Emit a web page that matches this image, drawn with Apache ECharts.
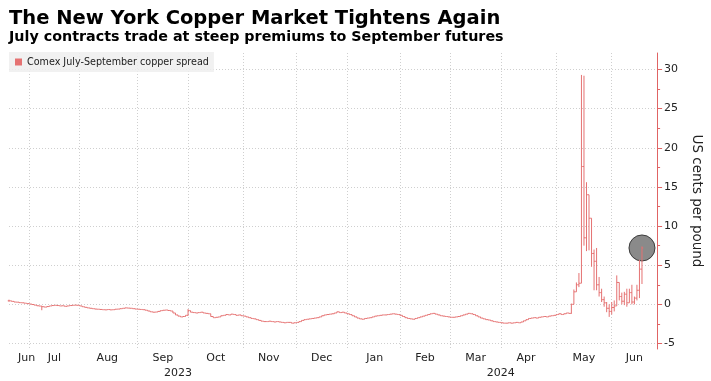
<!DOCTYPE html>
<html><head><meta charset="utf-8">
<script src="https://cdn.jsdelivr.net/npm/echarts@6/dist/echarts.min.js"></script>
<style>html,body{margin:0;padding:0;background:#fff}#c{width:711px;height:381px}</style>
</head><body><div id="c"></div>
<script>
// ---------- texts ----------
const titleText = 'The New York Copper Market Tightens Again';
const subtitleText = 'July contracts trade at steep premiums to September futures';
const seriesName = 'Comex July-September copper spread';
const axisName = 'US cents per pound';

// ---------- calendar (trading days) ----------
const firstDate = '2023-06-21';
const lastAxisDate = '2024-06-28';
const holidays = ['2023-07-04','2023-09-04','2023-11-23','2023-12-25','2024-01-01',
  '2024-01-15','2024-02-19','2024-03-29','2024-05-27','2024-06-19'];

// ---------- daily settlement of the spread (US cents / lb) ----------
const spreadJun23 = [0.45,0.38,0.3,0.28,0.22,0.2,0.15,0.1];
const spreadJul23 = [0.05,-0.02,-0.1,-0.18,-0.22,-0.3,-0.35,-0.28,-0.2,-0.15,-0.12,-0.15,-0.2,-0.18,-0.25,-0.2,-0.15,-0.12,-0.1,-0.12];
const spreadAug23 = [-0.2,-0.3,-0.38,-0.45,-0.5,-0.55,-0.6,-0.62,-0.65,-0.68,-0.7,-0.66,-0.7,-0.68,-0.62,-0.6,-0.55,-0.5,-0.45,-0.48,-0.5,-0.55,-0.6];
const spreadSep23 = [-0.62,-0.65,-0.68,-0.75,-0.85,-0.95,-1.0,-0.98,-0.9,-0.8,-0.75,-0.72,-0.78,-0.85,-1.1,-1.35,-1.5,-1.6,-1.55,-1.4];
const spreadOct23 = [-0.8,-1.0,-1.05,-1.1,-1.05,-1.0,-1.1,-1.15,-1.2,-1.55,-1.7,-1.65,-1.6,-1.45,-1.4,-1.3,-1.35,-1.25,-1.3,-1.4,-1.35,-1.45];
const spreadNov23 = [-1.5,-1.6,-1.7,-1.8,-1.85,-1.95,-2.05,-2.15,-2.2,-2.2,-2.15,-2.2,-2.25,-2.2,-2.25,-2.3,-2.35,-2.3,-2.3,-2.4,-2.35];
const spreadDec23 = [-2.3,-2.2,-2.05,-1.95,-1.9,-1.85,-1.8,-1.75,-1.7,-1.6,-1.45,-1.35,-1.3,-1.25,-1.2,-1.1,-0.95,-1.05,-1.0,-1.1];
const spreadJan24 = [-1.2,-1.3,-1.45,-1.6,-1.75,-1.85,-1.9,-1.8,-1.75,-1.7,-1.6,-1.5,-1.45,-1.4,-1.35,-1.35,-1.3,-1.25,-1.2,-1.25,-1.3];
const spreadFeb24 = [-1.4,-1.55,-1.7,-1.8,-1.85,-1.9,-1.8,-1.7,-1.6,-1.5,-1.4,-1.3,-1.2,-1.15,-1.25,-1.35,-1.45,-1.5,-1.55,-1.6];
const spreadMar24 = [-1.65,-1.65,-1.6,-1.55,-1.45,-1.35,-1.25,-1.15,-1.2,-1.3,-1.45,-1.6,-1.75,-1.85,-1.95,-2.0,-2.1,-2.2,-2.25,-2.3];
const spreadApr24 = [-2.35,-2.4,-2.4,-2.35,-2.4,-2.35,-2.3,-2.35,-2.25,-2.1,-1.95,-1.8,-1.75,-1.7,-1.75,-1.65,-1.6,-1.55,-1.6,-1.5,-1.45,-1.4];
const spreadMay24 = [-1.3,-1.2,-1.3,-1.2,-1.1,-1.15,0.0,1.6,2.5,2.7,17.6,8.5,14.0,11.0,6.5,5.5,2.5,1.5,0.6,0.2,-0.5,-0.9];
const spreadJun24 = [-0.4,-0.2,2.8,1.0,0.4,1.3,0.2,1.5,0.3,0.8,1.8,4.5,7.2];

// intraday extremes (high / low) where the bar extends beyond open/close
const wickDates = ['2023-06-21','2023-07-11','2023-10-02',
  '2024-05-09','2024-05-10','2024-05-13','2024-05-14','2024-05-15','2024-05-16','2024-05-17',
  '2024-05-20','2024-05-21','2024-05-22','2024-05-23','2024-05-24','2024-05-28','2024-05-29',
  '2024-05-30','2024-05-31','2024-06-03','2024-06-04','2024-06-05','2024-06-06','2024-06-07',
  '2024-06-10','2024-06-11','2024-06-12','2024-06-13','2024-06-14','2024-06-17','2024-06-18','2024-06-20'];
const wickHigh = [0.6,-0.2,-0.6,
  0.1,1.9,2.8,4.0,29.3,29.2,15.6,
  14.0,11.0,7.0,7.2,3.5,2.0,1.0,
  0.3,0.0,0.3,0.5,3.7,2.8,1.5,
  1.6,2.0,2.0,2.5,1.0,2.5,5.7,7.4];
const wickLow = [0.35,-0.75,-1.45,
  -1.2,0.0,1.6,2.2,2.7,7.5,6.8,
  6.9,4.8,1.8,1.8,1.0,0.3,-0.3,
  -1.0,-1.6,-1.3,-0.9,-0.2,0.5,0.0,
  -0.1,-0.3,0.2,0.0,0.0,0.5,0.8,2.6];

// ---------- tick labels ----------
const monthLabels = ['Jun','Jul','Aug','Sep','Oct','Nov','Dec','Jan','Feb','Mar','Apr','May','Jun'];
const monthLabelDates = ['2023-06-30','2023-07-18','2023-08-16','2023-09-18','2023-10-17','2023-11-15',
  '2023-12-15','2024-01-18','2024-02-15','2024-03-15','2024-04-15','2024-05-16','2024-06-14'];
const yearLabels = ['2023','2024'];
const yearLabelDates = ['2023-09-26','2024-04-01'];
const yTickValues = [-5,0,5,10,15,20,25,30];
const yMinorTickValues = [-2.5,2.5,7.5,12.5,17.5,22.5,27.5];
const yMin = -5.7, yMax = 32.1;

// ---------- build ----------
function tradingDays(start, end, hol) {
  const out = []; const d = new Date(start + 'T00:00:00Z'); const e = new Date(end + 'T00:00:00Z');
  while (d <= e) {
    const wd = d.getUTCDay(); const s = d.toISOString().slice(0, 10);
    if (wd !== 0 && wd !== 6 && hol.indexOf(s) < 0) out.push(s);
    d.setUTCDate(d.getUTCDate() + 1);
  }
  return out;
}
const dates = tradingDays(firstDate, lastAxisDate, holidays);
const spread = [].concat(spreadJun23, spreadJul23, spreadAug23, spreadSep23, spreadOct23, spreadNov23,
  spreadDec23, spreadJan24, spreadFeb24, spreadMar24, spreadApr24, spreadMay24, spreadJun24);

const ohlc = spread.map((c, i) => {
  const o = i === 0 ? c : spread[i - 1];
  const w = wickDates.indexOf(dates[i]);
  let h = Math.max(o, c), l = Math.min(o, c);
  if (w >= 0) { h = Math.max(h, wickHigh[w]); l = Math.min(l, wickLow[w]); }
  return [i, o, c, l, h];
});

const monthStartSet = new Set();
dates.forEach((d, i) => { if (i > 0 && d.slice(5, 7) !== dates[i - 1].slice(5, 7)) monthStartSet.add(d); });

const BAR = '#e57272';
const AX = '#e06464';
const FONT = '"DejaVu Sans", Verdana, sans-serif';
const grid = { left: 9, right: 52, top: 53, bottom: 32 };

const chart = echarts.init(document.getElementById('c'), null, { renderer: 'canvas' });
chart.setOption({
  animation: false,
  backgroundColor: '#ffffff',
  textStyle: { fontFamily: FONT },
  graphic: [
    { type: 'text', x: 9, y: 19.2, style: { text: titleText, font: 'bold 19.5px ' + FONT, fill: '#000', verticalAlign: 'middle' } },
    { type: 'text', x: 9, y: 37.5, style: { text: subtitleText, font: 'bold 14.3px ' + FONT, fill: '#000', verticalAlign: 'middle' } }
  ],
  legend: {
    data: [seriesName], left: 9, top: 52, icon: 'rect', itemWidth: 7, itemHeight: 7,
    padding: [5, 5, 5, 6], backgroundColor: 'rgba(238,238,238,0.85)',
    textStyle: { fontSize: 9.6, color: '#222', fontFamily: FONT }, selectedMode: false
  },
  grid: grid,
  xAxis: [{
    type: 'category', data: dates, boundaryGap: false,
    axisLine: { show: false }, axisTick: { show: false },
    axisLabel: {
      interval: (i, v) => monthLabelDates.indexOf(v) >= 0,
      formatter: v => monthLabels[monthLabelDates.indexOf(v)],
      color: '#222', fontSize: 11, margin: 4, fontFamily: FONT
    },
    splitLine: { show: true, interval: (i, v) => monthStartSet.has(v), lineStyle: { color: '#cfcfcf', type: [1, 2] } }
  }, {
    type: 'category', data: dates, boundaryGap: false, position: 'bottom', offset: 15,
    axisLine: { show: false }, axisTick: { show: false }, splitLine: { show: false },
    axisLabel: {
      interval: (i, v) => yearLabelDates.indexOf(v) >= 0,
      formatter: v => yearLabels[yearLabelDates.indexOf(v)],
      color: '#222', fontSize: 11, margin: 4, fontFamily: FONT
    }
  }],
  yAxis: [{
    type: 'value', position: 'right', min: yMin, max: yMax, splitNumber: 8,
    axisLine: { show: true, lineStyle: { color: AX, width: 1 } },
    axisTick: { show: true, customValues: yTickValues, length: 5, lineStyle: { color: AX } },
    axisLabel: { customValues: yTickValues, color: '#222', fontSize: 11, margin: 7, fontFamily: FONT },
    splitLine: { show: true, lineStyle: { color: '#cfcfcf', type: [1, 2] } },
    name: axisName, nameLocation: 'middle', nameRotate: -90, nameGap: 30,
    nameTextStyle: { fontSize: 13.5, color: '#222', fontFamily: FONT }
  }, {
    type: 'value', position: 'right', min: yMin, max: yMax,
    axisLine: { show: false },
    axisTick: { show: true, customValues: yMinorTickValues, length: 3, lineStyle: { color: AX } },
    axisLabel: { show: false }, splitLine: { show: false }
  }],
  series: [{
    name: 'last', type: 'scatter', z: 1, silent: true,
    data: [[dates[spread.length - 1], spread[spread.length - 1]]],
    symbolSize: 26, itemStyle: { color: '#8a8a8a', opacity: 1, borderColor: '#3c3c3c', borderWidth: 1 }
  }, {
    name: seriesName, type: 'custom', z: 3, color: BAR,
    data: ohlc, encode: { x: 0, y: [1, 2, 3, 4] },
    renderItem: function (params, api) {
      const i = api.value(0);
      const pO = api.coord([i, api.value(1)]);
      const pC = api.coord([i, api.value(2)]);
      const pL = api.coord([i, api.value(3)]);
      const pH = api.coord([i, api.value(4)]);
      const w = api.size([1, 0])[0] * 0.5;
      const st = { stroke: BAR, lineWidth: 1 };
      return {
        type: 'group', children: [
          { type: 'line', shape: { x1: pH[0], y1: pH[1], x2: pL[0], y2: pL[1] }, style: st },
          { type: 'line', shape: { x1: pO[0] - w, y1: pO[1], x2: pO[0], y2: pO[1] }, style: st },
          { type: 'line', shape: { x1: pC[0], y1: pC[1], x2: pC[0] + w, y2: pC[1] }, style: st }
        ]
      };
    }
  }]
});
</script></body></html>
